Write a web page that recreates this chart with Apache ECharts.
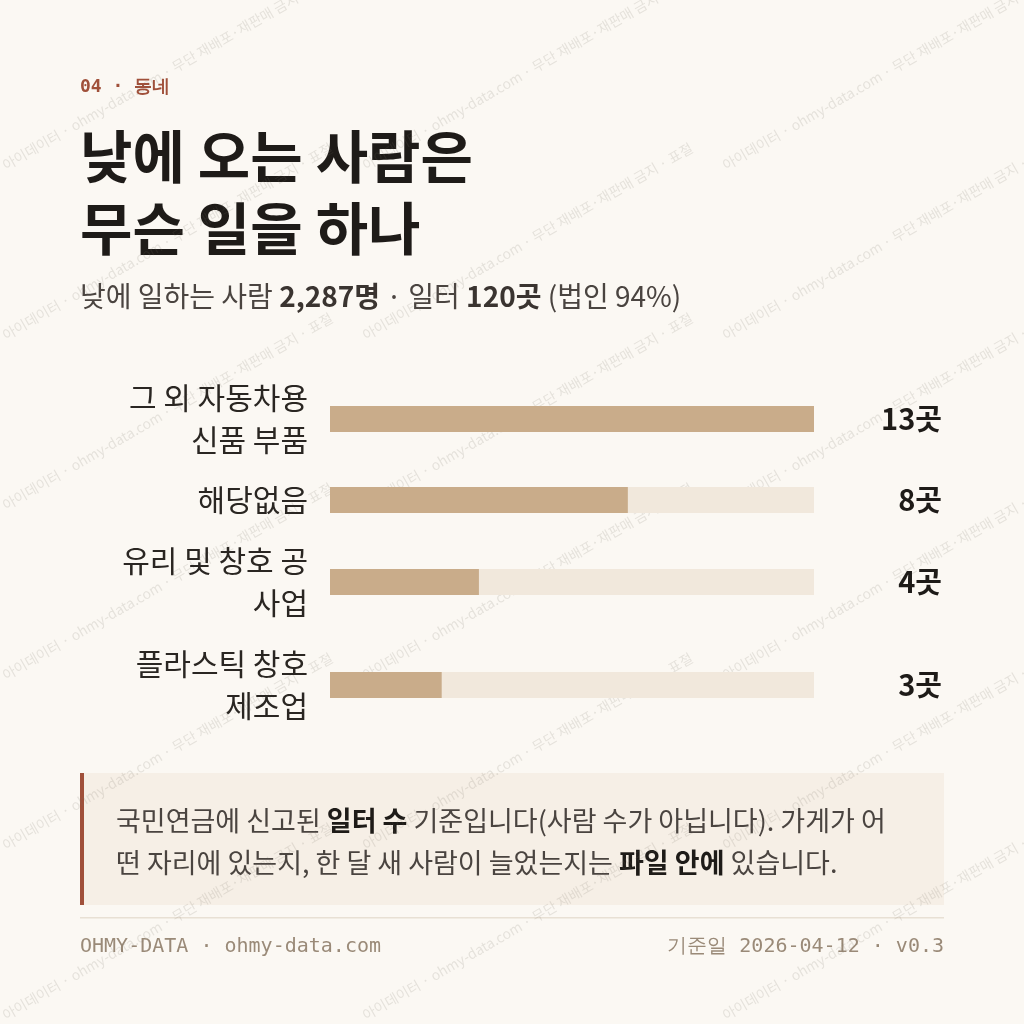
<!DOCTYPE html>
<html><head><meta charset="utf-8">
<script src="https://cdn.jsdelivr.net/npm/echarts@6/dist/echarts.min.js"></script>
<style>html,body{margin:0;background:#fbf8f3}#c{width:1024px;height:1024px}</style>
</head><body><div id="c"></div>
<script>
const categories = ['그 외 자동차용\n신품 부품', '해당없음', '유리 및 창호 공\n사업', '플라스틱 창호\n제조업'];
const values = [13, 8, 4, 3];
const maxValue = 13;
const unit = '곳';

const F = '"Noto Sans CJK KR","Noto Sans",sans-serif';
const M = '"DejaVu Sans Mono","Liberation Mono",monospace';
const rows = [{top:379,h:80},{top:480,h:40},{top:542,h:80},{top:645,h:80}];
const grid=[],xAxis=[],yAxis=[],series=[];
rows.forEach((r,i)=>{
  grid.push({left:330,right:210,top:r.top,height:r.h});
  xAxis.push({gridIndex:i,type:'value',min:0,max:maxValue,show:false});
  yAxis.push({gridIndex:i,type:'category',data:[categories[i]],axisLine:{show:false},axisTick:{show:false},
    axisLabel:{fontFamily:F,fontSize:30,color:'#2a2622',lineHeight:42,margin:22}});
  yAxis.push({gridIndex:i,type:'category',position:'right',data:[values[i]+unit],axisLine:{show:false},axisTick:{show:false},
    axisLabel:{fontFamily:F,fontSize:29,fontWeight:'bold',color:'#1e1b18',align:'right',margin:128}});
  series.push({type:'bar',xAxisIndex:i,yAxisIndex:2*i,data:[values[i]],barWidth:26,itemStyle:{color:'#c9ac8a'},
    showBackground:true,backgroundStyle:{color:'#f1e8dc'},silent:true});
});
const wm=[];
const wtext='아이데이터 · ohmy-data.com · 무단 재배포·재판매 금지 · 표절';
for(let gx=-1;gx<3;gx++)for(let gy=0;gy<6;gy++){
  wm.push({type:'text',x:gx*360,y:gy*170+160,rotation:Math.PI/6,silent:true,
    style:{text:wtext,font:'14px '+F,fill:'rgba(120,110,100,0.16)'}});
}
const g=[
  {type:'rect',shape:{x:80,y:773,width:864,height:132},style:{fill:'#f6efe6'}},
  {type:'rect',shape:{x:80,y:773,width:4,height:132},style:{fill:'#a0503a'}},
  {type:'rect',shape:{x:80,y:917,width:864,height:1.5},style:{fill:'#e8e0d4'}},
  {type:'text',x:80,y:78,style:{text:'04 · 동네',font:'bold 18px '+M,fill:'#a0503a'}},
  {type:'text',x:80,y:120,style:{text:'낮에 오는 사람은\n무슨 일을 하나',font:'bold 57px '+F,lineHeight:72,fill:'#1e1b18'}},
  {type:'text',x:80,y:282,style:{text:'{n|낮에 일하는 사람 }{b|2,287명}{n| · 일터 }{b|120곳}{n| (법인 94%)}',
    rich:{n:{fontFamily:F,fontSize:28,fill:'#4a4440'},b:{fontFamily:F,fontSize:28,fontWeight:'bold',fill:'#3a3430'}}}},
  {type:'text',x:116,y:800,style:{text:'{n|국민연금에 신고된 }{b|일터 수}{n| 기준입니다(사람 수가 아닙니다). 가게가 어}\n{n|떤 자리에 있는지, 한 달 새 사람이 늘었는지는 }{b|파일 안에}{n| 있습니다.}',
    rich:{n:{fontFamily:F,fontSize:27,fill:'#4a4440',lineHeight:42},b:{fontFamily:F,fontSize:27,fontWeight:'bold',fill:'#1e1b18',lineHeight:42}}}},
  {type:'text',x:80,y:937,style:{text:'OHMY-DATA · ohmy-data.com',font:'20px '+M,fill:'#9a8a78'}},
  {type:'text',x:944,y:937,style:{text:'기준일 2026-04-12 · v0.3',font:'20px '+M,fill:'#9a8a78',align:'right'}}
].concat(wm);
const chart=echarts.init(document.getElementById('c'));
chart.setOption({backgroundColor:'#fbf8f3',animation:false,grid,xAxis,yAxis,series,graphic:g});
</script></body></html>
